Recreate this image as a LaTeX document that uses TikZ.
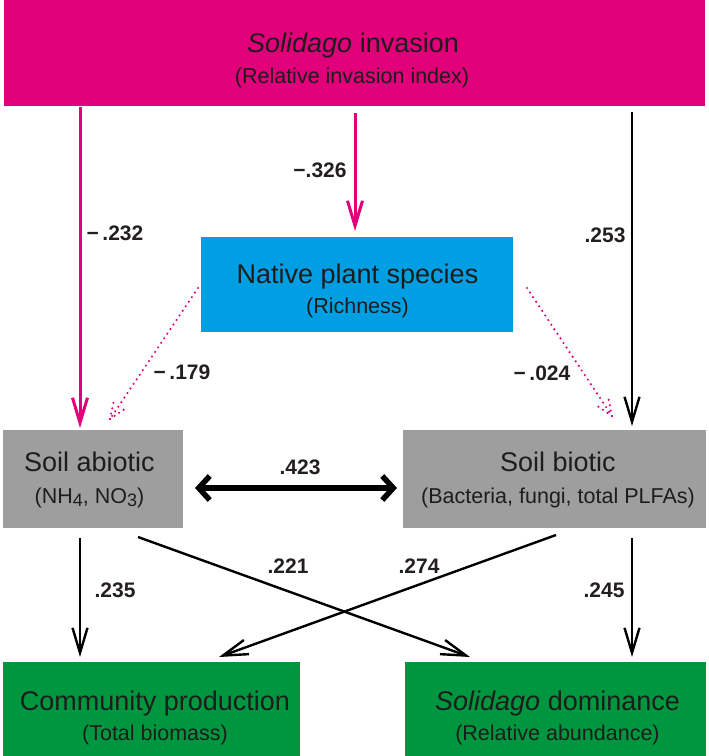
\documentclass[tikz,border=0pt]{standalone}
\usepackage{fontspec}
\setmainfont{Liberation Sans}
\usetikzlibrary{arrows.meta,calc}
\definecolor{invpink}{RGB}{226,0,122}
\definecolor{natblue}{RGB}{0,159,227}
\definecolor{soilgray}{RGB}{158,158,158}
\definecolor{outgreen}{RGB}{0,150,64}
\definecolor{txtdark}{RGB}{29,29,27}
\definecolor{lbldark}{RGB}{35,31,32}
\tikzset{
  box/.style={rectangle, draw=none, inner sep=0pt, outer sep=0pt},
  ttl/.style={inner sep=0pt, anchor=base, text=txtdark, font=\fontsize{27}{31}\selectfont},
  sub/.style={inner sep=0pt, anchor=base, text=txtdark, font=\fontsize{21.5}{25}\selectfont},
  lbl/.style={inner sep=0pt, text=lbldark, font=\fontsize{21}{25}\selectfont\bfseries},
  pinkarr/.style={draw=invpink, line width=3pt, -{Straight Barb[length=25pt,width=15pt]}},
  blackarr/.style={draw=black, line width=2.4pt, -{Straight Barb[length=25pt,width=15pt]}},
  dotarr/.style={draw=invpink, line width=2.4pt, line cap=round, dash pattern=on 0pt off 5.5pt},
  dblarr/.style={draw=black, line width=5.5pt, {Straight Barb[length=11pt,width=24pt]}-{Straight Barb[length=11pt,width=24pt]}}
}
\newcommand{\lowsub}[1]{\raisebox{-0.35ex}{\fontsize{18}{18}\selectfont #1}}
\begin{document}
\begin{tikzpicture}[x=1pt,y=-1pt]
\useasboundingbox (0,0) rectangle (709,756);
% boxes
\node[box, fill=invpink, minimum width=701pt, minimum height=106pt] (inv) at (354.5,53) {};
\node[box, fill=natblue, minimum width=312pt, minimum height=95pt] (nat) at (357,284.5) {};
\node[box, fill=soilgray, minimum width=180pt, minimum height=98pt] (abio) at (93,479) {};
\node[box, fill=soilgray, minimum width=303pt, minimum height=98pt] (bio) at (554.5,479) {};
\node[box, fill=outgreen, minimum width=297pt, minimum height=94pt] (comm) at (151.5,709) {};
\node[box, fill=outgreen, minimum width=301pt, minimum height=94pt] (dom) at (555.5,709) {};
% box texts (base anchored)
\node[ttl] (invt) at (353,52) {\textit{Solidago} invasion};
\node[sub] (invs) at (352,83) {(Relative invasion index)};
\node[ttl] (natt) at (357.5,283) {Native plant species};
\node[sub] (nats) at (357.5,313) {(Richness)};
\node[ttl] (abiot) at (89.5,471) {Soil abiotic};
\node[sub] (abios) at (89.5,503) {(NH\lowsub{4}, NO\lowsub{3})};
\node[ttl] (biot) at (558,471) {Soil biotic};
\node[sub] (bios) at (558,503) {(Bacteria, fungi, total PLFAs)};
\node[ttl] (commt) at (155,710) {Community production};
\node[sub] (comms) at (155,740) {(Total biomass)};
\node[ttl] (domt) at (557.5,710) {\textit{Solidago} dominance};
\node[sub] (doms) at (557.5,740) {(Relative abundance)};
% x positions
\coordinate (xL) at (80,0);
\coordinate (xM) at (355,0);
\coordinate (xR) at (632,0);
% top arrows
\draw[pinkarr] ($(inv.south -| xL)+(0,1)$) -- ($(abio.north -| xL)+(0,-2)$);
\draw[pinkarr] ($(inv.south -| xM)+(0,7)$) -- ($(nat.north -| xM)+(0,-6)$);
\draw[blackarr] ($(inv.south -| xR)+(0,6)$) -- ($(bio.north -| xR)+(0,-4)$);
% dotted arrows
\coordinate (d1s) at ($(nat.west)+(-3,3.5)$);
\coordinate (d1t) at ($(abio.north)+(17,-11)$);
\draw[dotarr] (d1s) -- (d1t);
\draw[dotarr] (d1t) -- ($(d1t)!18pt!22:(d1s)$);
\draw[dotarr] (d1t) -- ($(d1t)!18pt!-22:(d1s)$);
\coordinate (d2s) at ($(nat.east)+(14,3.5)$);
\coordinate (d2t) at ($(bio.north)+(57.5,-14)$);
\draw[dotarr] (d2s) -- (d2t);
\draw[dotarr] (d2t) -- ($(d2t)!18pt!22:(d2s)$);
\draw[dotarr] (d2t) -- ($(d2t)!18pt!-22:(d2s)$);
% double arrow
\draw[dblarr] ($(abio.east)+(12,9)$) -- ($(bio.west)+(-6,9)$);
% bottom arrows
\draw[blackarr] ($(abio.south -| xL)+(0,10)$) -- ($(comm.north -| xL)+(0,-5)$);
\draw[blackarr] ($(bio.south -| xR)+(0,10)$) -- ($(dom.north -| xR)+(0,-5)$);
\draw[blackarr] ($(abio.south)+(45,9)$) -- ($(dom.north)+(-85.5,-5)$);
\draw[blackarr] ($(bio.south)+(1.5,7)$) -- ($(comm.north)+(67.5,-5)$);
% labels
\node[lbl] (l232) at (115,233) {−\,.232};
\node[lbl] (l326) at (320,170) {−.326};
\node[lbl] (l253) at (605,235) {.253};
\node[lbl] (l179) at (182,372) {−\,.179};
\node[lbl] (l024) at (542,373) {−\,.024};
\node[lbl] (l423) at (300,467) {.423};
\node[lbl] (l235) at (115,590) {.235};
\node[lbl] (l245) at (604,590) {.245};
\node[lbl] (l221) at (288,566) {.221};
\node[lbl] (l274) at (419,566) {.274};
\end{tikzpicture}
\end{document}
